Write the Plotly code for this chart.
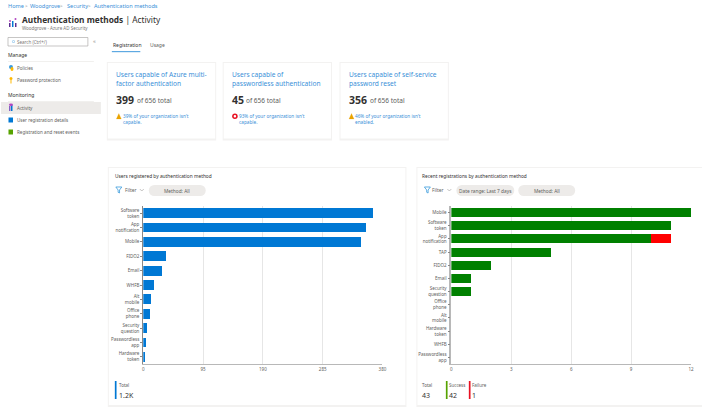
import plotly.graph_objects as go

W = 702
H = 408
# page comes out a touch narrow in the photo, so draw on a slightly wider paper
PAGE_W = 706
FONT = 'Noto Sans'
BLUE = '#0078d4'
LINK = '#3a8fd8'
GREY = '#605e5c'
DARK = '#323130'

reg_methods = ['Software<br>token', 'App<br>notification', 'Mobile', 'FIDO2', 'Email', 'WHFB',
               'Alt<br>mobile', 'Office<br>phone', 'Security<br>question', 'Passwordless<br>app', 'Hardware<br>token']
reg_users = [365, 354, 346, 36, 29, 17, 12, 10, 6, 5, 3]
reg_ticks = [0, 95, 190, 285, 380]

recent_methods = ['Mobile', 'Software<br>token', 'App<br>notification', 'TAP', 'FIDO2', 'Email',
                  'Security<br>question', 'Office<br>phone', 'Alt<br>mobile', 'Hardware<br>token', 'WHFB',
                  'Passwordless<br>app']
recent_success = [12, 11, 10, 5, 2, 1, 1, 0, 0, 0, 0, 0]
recent_failure = [0, 0, 1, 0, 0, 0, 0, 0, 0, 0, 0, 0]
recent_ticks = [0, 3, 6, 9, 12]

card_titles = ['Users capable of Azure multi-<br>factor authentication',
               'Users capable of<br>passwordless authentication',
               'Users capable of self-service<br>password reset']
card_counts = [399, 45, 356]
card_notes = ["39% of your organization isn't<br>capable.",
              "93% of your organization isn't<br>capable.",
              "46% of your organization isn't<br>enabled."]
card_total = 656


def px(x):
    return x / W


def py(y):
    return 1 - y / H


shapes = []
annotations = []


def rect(x0, y0, x1, y1, fill, line=None, lw=1):
    shapes.append(dict(type='rect', xref='paper', yref='paper', layer='below',
                       x0=px(x0), x1=px(x1), y0=py(y0), y1=py(y1), fillcolor=fill,
                       line=dict(color=line or fill, width=lw if line else 0)))


def circle(x0, y0, x1, y1, fill):
    shapes.append(dict(type='circle', xref='paper', yref='paper', layer='below',
                       x0=px(x0), x1=px(x1), y0=py(y0), y1=py(y1), fillcolor=fill, line=dict(width=0)))


def poly(points, fill=None, line=None, lw=1):
    path = 'M ' + ' L '.join(f'{px(a):.5f},{py(b):.5f}' for a, b in points)
    if fill:
        path += ' Z'
    shapes.append(dict(type='path', xref='paper', yref='paper', layer='below', path=path,
                       fillcolor=fill, line=dict(color=line or fill, width=lw)))


def label(x, y, text, size=5, color=GREY, anchor='left'):
    annotations.append(dict(xref='paper', yref='paper', x=px(x), y=py(y), text=text, showarrow=False,
                            xanchor=anchor, yanchor='middle', align=anchor,
                            font=dict(family=FONT, size=size, color=color),
                            borderpad=0, borderwidth=0))


def card(x0, y0, x1, y1):
    rect(x0 - 1, y0 - 1, x1 + 1, y1 + 2, '#f3f2f1')
    rect(x0, y0, x1, y1, '#ffffff')


def filter_icon(x, y):
    poly([(x - 3, y - 3), (x + 3, y - 3), (x + 0.7, y), (x + 0.7, y + 3), (x - 0.7, y + 2.3), (x - 0.7, y)],
         fill='#ffffff', line='#3a9bdc', lw=0.8)


def chevron(x, y):
    poly([(x - 2, y - 1), (x, y + 1), (x + 2, y - 1)], line='#8a8886', lw=0.5)


def pill(x0, x1, y0, y1, text):
    r = (y1 - y0) / 2
    rect(x0 + r, y0, x1 - r, y1, '#edebe9')
    circle(x0, y0, x0 + 2 * r, y1, '#edebe9')
    circle(x1 - 2 * r, y0, x1, y1, '#edebe9')
    label((x0 + x1) / 2, (y0 + y1) / 2, text, size=4.8, color=GREY, anchor='center')


# breadcrumb and header
for x, t in [(7, 'Home'), (29, 'Woodgrove'), (66, 'Security'), (93, 'Authentication methods')]:
    label(x, 6.5, t, size=5.6, color=LINK)
for x in [25.5, 61, 88.5]:
    label(x, 6.5, '>', size=4.5, color='#8a8886', anchor='center')
label(21, 19, '<b>Authentication methods</b> | Activity', size=8.3, color=DARK)
label(21, 28, 'Woodgrove - Azure AD Security', size=4.5, color='#7a7876')

# header icon
rect(8, 23, 9.5, 27, '#5c2d91')
rect(11, 21, 12.5, 27, '#0078d4')
rect(14, 23, 15.5, 27, '#5c2d91')
circle(8, 20, 10, 22, '#b146c2')
circle(13.5, 18, 15.5, 20, '#b146c2')

# side menu
rect(7, 37.5, 87, 46, '#ffffff', line='#a19f9d', lw=0.6)
circle(11, 40, 14, 43, '#9fcdee')
circle(11.7, 40.7, 13.3, 42.3, '#ffffff')
label(16.5, 41.7, 'Search (Ctrl+/)', size=4.5, color='#7a7876')
label(94, 41, '«', size=5.5, color='#8a8886', anchor='center')
label(7, 55, 'Manage', size=5, color=DARK)
rect(7, 61, 93, 61.7, '#edebe9')
label(7, 95, 'Monitoring', size=5, color=DARK)
rect(7, 101, 93, 101.7, '#edebe9')
rect(0, 102, 100, 114, '#edebe9')
for y, t in [(68, 'Policies'), (80, 'Password protection'), (108, 'Activity'),
             (120, 'User registration details'), (132, 'Registration and reset events')]:
    label(16, y, t, size=4.55, color=GREY)
circle(8, 65, 12, 69, '#3a9bdc')
circle(9.5, 67, 12.5, 71, '#ffb900')
circle(8.5, 77, 11.5, 80, '#ffb900')
rect(9.5, 80, 10.5, 83.5, '#ffb900')
rect(8, 106, 9.5, 111, '#8661c5')
rect(10, 105, 11.5, 111, '#0078d4')
circle(8, 103.5, 12, 106, '#b146c2')
rect(7.5, 117.5, 12, 122.5, '#0078d4')
rect(7.5, 129.5, 12, 134.5, '#57a300')

# tabs
label(112, 45, 'Registration', size=5, color=DARK)
label(149, 45, 'Usage', size=5, color=GREY)
rect(111, 51, 139.5, 52.2, '#5ea9e2')

# summary cards
for i, x0 in enumerate([107, 223, 340]):
    card(x0, 63, x0 + 107.5, 138.5)
    label(x0 + 8, 79.5, card_titles[i], size=6.6, color=LINK)
    count_w = 6.6 * len(str(card_counts[i]))
    label(x0 + 8, 100, f'<b>{card_counts[i]}</b>', size=10.5, color=DARK)
    label(x0 + 8 + count_w + 1.5, 100.8, f'of {card_total} total', size=6.5, color=GREY)
    label(x0 + 15, 119, card_notes[i], size=4.7, color=LINK)
    if i == 1:
        circle(x0 + 8.5, 113.5, x0 + 14, 119, '#e81123')
        circle(x0 + 10, 115, x0 + 12.5, 117.5, '#ffffff')
    else:
        poly([(x0 + 8.5, 119), (x0 + 11, 113.5), (x0 + 13.5, 119)], fill='#eaa300', lw=0.2)

# chart cards
card(108, 168, 405, 405)
card(417, 168, 703, 405)
label(114, 176, 'Users registered by authentication method', size=4.8, color=DARK)
label(422, 176, 'Recent registrations by authentication method', size=4.8, color=DARK)
filter_icon(118, 190)
label(124, 190.3, 'Filter', size=4.8, color=GREY)
chevron(141, 190)
pill(148, 205, 185, 196, 'Method: All')
filter_icon(427, 190)
label(432, 190.3, 'Filter', size=4.8, color=GREY)
chevron(449, 190)
pill(456, 514, 185, 196, 'Date range: Last 7 days')
pill(518, 575, 185, 196, 'Method: All')

# chart legends
rect(114, 381, 115.7, 399, BLUE)
label(118, 385, 'Total', size=4.5, color=GREY)
label(118, 395, '1.2K', size=7, color=DARK)
label(422, 385, 'Total', size=4.5, color=GREY)
label(422, 395, '43', size=7, color=DARK)
rect(445.5, 381, 447.2, 399, '#57a300')
label(449, 385, 'Success', size=4.5, color=GREY)
label(449, 395, '42', size=7, color=DARK)
rect(468.5, 381, 470.2, 399, '#e81123')
label(472, 385, 'Failure', size=4.5, color=GREY)
label(472, 395, '1', size=7, color=DARK)

fig = go.Figure()
fig.add_trace(go.Bar(y=reg_methods, x=reg_users, orientation='h', marker=dict(color=BLUE, line=dict(width=0)),
                     xaxis='x', yaxis='y', name='Total'))
fig.add_trace(go.Bar(y=recent_methods, x=recent_success, orientation='h', marker=dict(color='#008000', line=dict(width=0)),
                     xaxis='x2', yaxis='y2', name='Success'))
fig.add_trace(go.Bar(y=recent_methods, x=recent_failure, orientation='h', marker=dict(color='#ff0000', line=dict(width=0)),
                     xaxis='x2', yaxis='y2', name='Failure'))

x_style = dict(showgrid=True, gridcolor='#e6e6e6', gridwidth=1, zeroline=False, showline=True, linecolor='#b8b8b8',
               linewidth=1.3, ticks='', tickfont=dict(family=FONT, size=4.5, color=GREY), tickangle=0)
y_style = dict(autorange='reversed', showgrid=False, zeroline=False, showline=True,
               ticks='outside', ticklen=2, tickcolor='#8a8886', tickwidth=0.5,
               tickfont=dict(family=FONT, size=4.5, color=GREY))

fig.update_layout(
    width=PAGE_W, height=H, margin=dict(l=0, r=0, t=0, b=0, pad=0),
    paper_bgcolor='#ffffff', plot_bgcolor='rgba(0,0,0,0)',
    barmode='stack', bargap=0.32, showlegend=False,
    xaxis=dict(domain=[px(142.5), px(382)], range=[0, 380], tickvals=reg_ticks, anchor='y', **x_style),
    yaxis=dict(domain=[py(364), py(206)], anchor='x', linecolor='#8a8886', linewidth=1, **y_style),
    xaxis2=dict(domain=[px(451), px(691)], range=[0, 12], tickvals=recent_ticks, anchor='y2', **x_style),
    yaxis2=dict(domain=[py(364), py(206)], anchor='x2', linecolor='#b8b8b8', linewidth=1.6, **y_style),
    shapes=shapes, annotations=annotations,
)

fig.write_html('out.html', config={'displayModeBar': False},
               post_script="var s=document.createElement('style');"
                           "s.textContent='html,body{margin:0;padding:0;overflow:hidden}div{display:block}';"
                           "document.head.appendChild(s);")
